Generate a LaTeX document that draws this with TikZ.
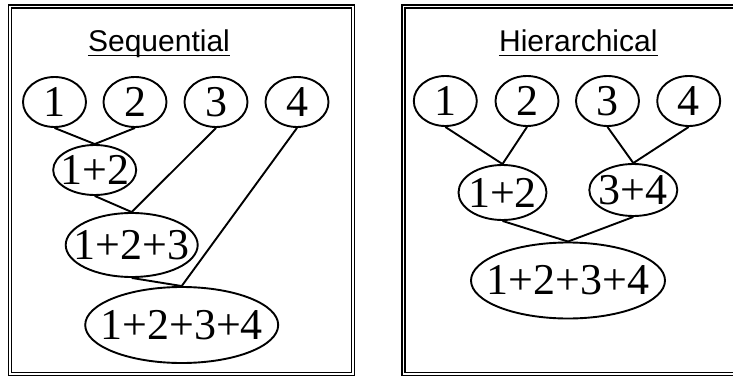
\documentclass[tikz,border=0pt]{standalone}
\usepackage{fontspec}
\setmainfont{Liberation Serif}
\newfontfamily\titlefont{Liberation Sans}
\usetikzlibrary{shapes.geometric}
\begin{document}
\begin{tikzpicture}[x=1pt,y=-1pt,
  ell/.style={ellipse,draw,line width=1.9pt,inner sep=0pt,font=\fontsize{44}{44}\selectfont},
  sm/.style={ell,minimum width=63pt,minimum height=50pt},
  edge/.style={line width=1.9pt},
  frame/.style={draw,line width=1.2pt,double=white,double distance=1.8pt},
  ttl/.style={font=\titlefont\fontsize{30}{30}\selectfont,inner sep=0pt,anchor=base},
  uline/.style={line width=1pt}]
\useasboundingbox (0,0) rectangle (733,377);
\clip (0,0) rectangle (733,377);
% frames
\draw[frame] (10,6.5) rectangle (353.3,374.2);
\draw[frame] (403.4,6.5) rectangle (760,374.2);

% ---------- Sequential ----------
\node[ttl] (t1) at (159,51.5) {Sequential};
\coordinate (u1) at (0,55.5);
\draw[uline] (t1.west |- u1) -- (t1.east |- u1);

\node[sm] (a1) at (54.5,102) {\makebox[0pt]{\raisebox{-1.5pt}{1}}};
\node[sm] (a2) at (135,102) {\makebox[0pt]{\raisebox{-1.5pt}{2}}};
\node[sm] (a3) at (216,102) {\makebox[0pt]{\raisebox{-1.5pt}{3}}};
\node[sm] (a4) at (297,102) {\makebox[0pt]{\raisebox{-1.5pt}{4}}};
\node[ell,minimum width=83pt,minimum height=50pt] (a12) at (94.7,170) {\makebox[0pt]{\raisebox{-1.5pt}{1+2}}};
\node[ell,minimum width=132pt,minimum height=64pt] (a123) at (131.7,245) {\makebox[0pt]{\raisebox{-1.5pt}{1+2+3}}};
\node[ell,minimum width=193pt,minimum height=76pt] (a1234) at (181.7,325) {\makebox[0pt]{\raisebox{-1.5pt}{1+2+3+4}}};

\draw[edge] (a1.south) -- (a12.north);
\draw[edge] (a2.south) -- (a12.north);
\draw[edge] (a12.south) -- (a123.north);
\draw[edge] (a3.south) -- (a123.north);
\draw[edge] (a123.south) -- (a1234.north);
\draw[edge] (a4.south) -- (a1234.north);

% ---------- Hierarchical ----------
\node[ttl] (t2) at (578.3,51.5) {Hierarchical};
\coordinate (u2) at (0,55.5);
\draw[uline] (t2.west |- u2) -- (t2.east |- u2);

\node[sm] (b1) at (445.3,101) {\makebox[0pt]{\raisebox{-1.5pt}{1}}};
\node[sm] (b2) at (527,101) {\makebox[0pt]{\raisebox{-1.5pt}{2}}};
\node[sm] (b3) at (607.5,101) {\makebox[0pt]{\raisebox{-1.5pt}{3}}};
\node[sm] (b4) at (688.7,101) {\makebox[0pt]{\raisebox{-1.5pt}{4}}};
\node[ell,minimum width=88pt,minimum height=55pt] (b12) at (502.5,192.5) {\makebox[0pt]{\raisebox{-1.5pt}{1+2}}};
\node[ell,minimum width=88pt,minimum height=52pt] (b34) at (633.3,190) {\makebox[0pt]{\raisebox{-1.5pt}{3+4}}};
\node[ell,minimum width=194pt,minimum height=76pt] (b1234) at (568,280.5) {\makebox[0pt]{\raisebox{-1.5pt}{1+2+3+4}}};

\draw[edge] (b1.south) -- (b12.north);
\draw[edge] (b2.south) -- (b12.north);
\draw[edge] (b3.south) -- (b34.north);
\draw[edge] (b4.south) -- (b34.north);
\draw[edge] (b12.south) -- (b1234.north);
\draw[edge] (b34.south) -- (b1234.north);
\end{tikzpicture}
\end{document}
